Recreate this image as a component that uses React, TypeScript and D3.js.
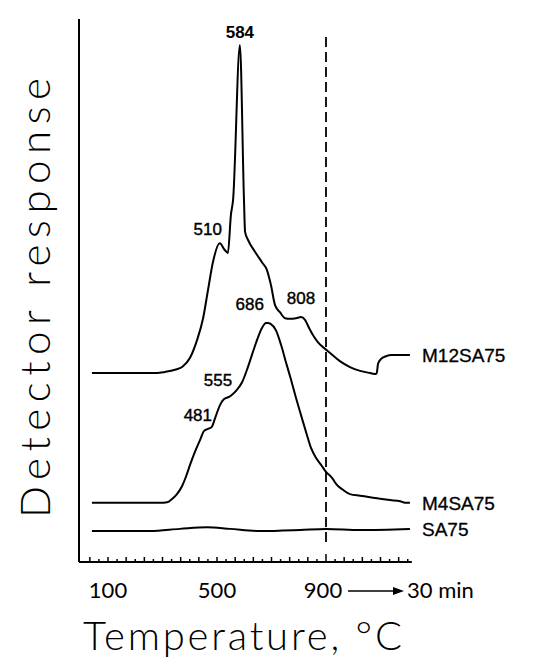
import React from 'react';
import * as d3 from 'd3';

// x values are °C (beyond 900 the axis continues as 30 min isothermal hold)
const m12Temp = [41, 217, 280, 309, 346, 372, 401, 427, 449, 467, 485, 510, 528, 540, 551, 559, 584, 599, 603, 614, 640, 665, 683, 698, 713, 731, 750, 768, 790, 808, 823, 838, 852, 870, 893, 915, 951, 988, 1025, 1062, 1084, 1087, 1091, 1102, 1120, 1142, 1208];
const m12Resp = [34.8, 34.8, 34.8, 35.0, 35.4, 35.9, 37.6, 40.9, 44.9, 50.1, 55.2, 58.7, 57.5, 56.9, 63.9, 66.7, 95.2, 66.7, 60.8, 59.3, 57.1, 55.2, 53.8, 51.0, 47.3, 46.0, 44.9, 44.8, 44.9, 45.1, 44.6, 43.1, 41.8, 40.5, 39.4, 38.5, 37.0, 35.9, 35.2, 34.8, 34.6, 35.0, 36.5, 37.4, 37.9, 38.1, 38.1];

const m4Temp = [41, 291, 317, 335, 353, 372, 386, 401, 419, 438, 452, 467, 481, 493, 511, 526, 544, 555, 573, 592, 610, 628, 647, 665, 680, 686, 698, 716, 735, 753, 772, 790, 808, 827, 845, 863, 882, 900, 922, 940, 962, 988, 1025, 1080, 1135, 1172, 1190, 1208];
const m4Resp = [10.9, 10.9, 11.0, 11.6, 12.5, 14.0, 15.7, 17.9, 20.3, 22.5, 24.1, 24.5, 24.9, 26.5, 28.9, 30.0, 30.4, 30.8, 31.7, 33.1, 35.4, 38.1, 40.9, 43.1, 44.0, 44.0, 43.8, 42.7, 40.0, 36.8, 33.5, 30.2, 27.1, 23.9, 21.0, 19.2, 17.9, 16.6, 15.5, 14.2, 13.3, 12.5, 12.2, 11.8, 11.4, 11.2, 10.9, 10.9];

const saTemp = [41, 254, 364, 463, 548, 658, 805, 900, 1025, 1208];
const saResp = [5.7, 5.7, 6.1, 6.4, 6.1, 5.7, 5.9, 6.1, 5.9, 6.1];

const seriesNames = ['M12SA75', 'M4SA75', 'SA75'];

const peakTemps = [584, 510, 808, 686, 555, 481];
const peakLabels = ['584', '510', '808', '686', '555', '481'];
const peakResp = [96.5, 60.2, 47.5, 46.5, 32.4, 26.0];
const peakDx = [0, -12, 0, -18, -14, -14];

const tickLabels = ['100', '500', '900'];
const tickValues = [100, 500, 900];

const App = () => {
  const width = 536;
  const height = 660;

  const x = d3.scaleLinear().domain([100, 900]).range([108, 326]);
  const y = d3.scaleLinear().domain([0, 100]).range([562, 19]);

  const line = d3.line<[number, number]>()
    .x(d => x(d[0]))
    .y(d => y(d[1]))
    .curve(d3.curveMonotoneX);

  const series = [
    { name: seriesNames[0], pts: m12Temp.map((t, i) => [t, m12Resp[i]] as [number, number]) },
    { name: seriesNames[1], pts: m4Temp.map((t, i) => [t, m4Resp[i]] as [number, number]) },
    { name: seriesNames[2], pts: saTemp.map((t, i) => [t, saResp[i]] as [number, number]) },
  ];

  const xLeft = 79;
  const xRight = x(1215);
  const minorTicks = d3.range(1, 37).map(k => (k * 100) / 3);
  const labelFont = "Liberation Sans, Arial, sans-serif";
  const axisFont = "Lato, 'DejaVu Sans', sans-serif";

  return (
    <svg width={width} height={height} style={{ position: 'absolute', left: 0, top: 0, background: '#fff' }}>
      {/* axes */}
      <line x1={xLeft} x2={xLeft} y1={y(100)} y2={y(0)} stroke="#000" strokeWidth={2} />
      <line x1={xLeft} x2={xRight} y1={y(0)} y2={y(0)} stroke="#000" strokeWidth={2} />
      {minorTicks.map((t, k) => {
        const tall = (k + 1) % 2 === 1;
        const len = Math.abs(t - 900) < 1 ? 8 : tall ? 5 : 3;
        return <line key={k} x1={x(t)} x2={x(t)} y1={y(0)} y2={y(0) - len} stroke="#000" strokeWidth={1.5} />;
      })}

      {/* 900 °C marker */}
      <line x1={x(900)} x2={x(900)} y1={37} y2={547} stroke="#000" strokeWidth={1.8} strokeDasharray="10,5" />

      {series.map(s => (
        <path key={s.name} d={line(s.pts) || ''} fill="none" stroke="#000" strokeWidth={2} strokeLinejoin="round" />
      ))}

      {series.map(s => {
        const last = s.pts[s.pts.length - 1];
        return (
          <text key={s.name} x={422} y={y(last[1]) + 7} fontFamily={labelFont} fontSize={19} stroke="#000" strokeWidth={0.3}>
            {s.name}
          </text>
        );
      })}

      {peakTemps.map((t, i) => (
        <text key={i} x={x(t) + peakDx[i]} y={y(peakResp[i])} textAnchor="middle" fontFamily={labelFont} fontSize={17} fontWeight={i === 0 ? 'bold' : 'normal'} stroke="#000" strokeWidth={i === 0 ? 0 : 0.4}>
          {peakLabels[i]}
        </text>
      ))}

      {tickValues.map((t, i) => (
        <text key={t} x={x(t) - (i === 2 ? 3 : 0)} y={598} textAnchor="middle" fontFamily={axisFont} fontSize={22}>
          {tickLabels[i]}
        </text>
      ))}
      <line x1={348} x2={396} y1={591} y2={591} stroke="#000" strokeWidth={1.6} />
      <path d="M 404 591 L 393 587 L 393 595 Z" fill="#000" />
      <text x={407} y={598} fontFamily={axisFont} fontSize={22}>30 min</text>

      <text x={83} y={650} fontFamily={axisFont} fontWeight={300} fontSize={40} textLength={319} lengthAdjust="spacing">
        Temperature, °C
      </text>
      <text transform="translate(50, 518) rotate(-90)" fontFamily={axisFont} fontWeight={300} fontSize={42} textLength={440} lengthAdjust="spacing">
        Detector response
      </text>
    </svg>
  );
};

export default App;
